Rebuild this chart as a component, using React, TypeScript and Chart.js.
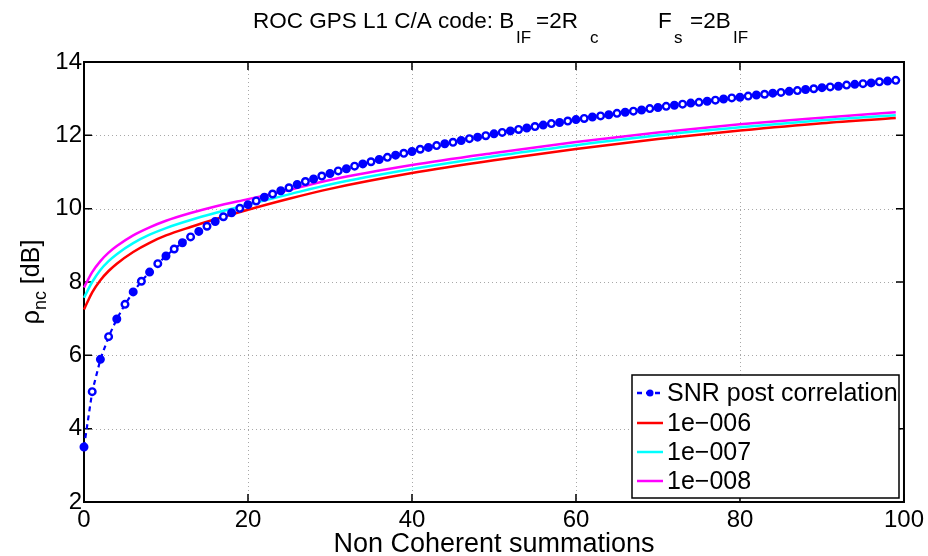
import React, { useEffect, useRef } from "react";
import { Chart, registerables } from "chart.js";

Chart.register(...registerables);

// ---------- data ----------
const snrX = [
  0, 1, 2, 3, 4, 5, 6, 7, 8, 9, 10, 11, 12, 13, 14, 15, 16, 17, 18, 19,
  20, 21, 22, 23, 24, 25, 26, 27, 28, 29, 30, 31, 32, 33, 34, 35, 36, 37, 38, 39,
  40, 41, 42, 43, 44, 45, 46, 47, 48, 49, 50, 51, 52, 53, 54, 55, 56, 57, 58, 59,
  60, 61, 62, 63, 64, 65, 66, 67, 68, 69, 70, 71, 72, 73, 74, 75, 76, 77, 78, 79,
  80, 81, 82, 83, 84, 85, 86, 87, 88, 89, 90, 91, 92, 93, 94, 95, 96, 97, 98, 99,
];
const snrDb = [
  3.5, 5.01, 5.89, 6.51, 6.99, 7.39, 7.73, 8.02, 8.27, 8.5,
  8.71, 8.9, 9.07, 9.23, 9.38, 9.52, 9.65, 9.78, 9.89, 10.01,
  10.11, 10.21, 10.31, 10.4, 10.49, 10.57, 10.66, 10.74, 10.81, 10.89,
  10.96, 11.03, 11.09, 11.16, 11.22, 11.28, 11.34, 11.4, 11.46, 11.51,
  11.56, 11.62, 11.67, 11.72, 11.77, 11.81, 11.86, 11.91, 11.95, 11.99,
  12.04, 12.08, 12.12, 12.16, 12.2, 12.24, 12.28, 12.32, 12.35, 12.39,
  12.43, 12.46, 12.5, 12.53, 12.56, 12.6, 12.63, 12.66, 12.69, 12.73,
  12.76, 12.79, 12.82, 12.85, 12.88, 12.9, 12.93, 12.96, 12.99, 13.02,
  13.04, 13.07, 13.1, 13.12, 13.15, 13.17, 13.2, 13.22, 13.25, 13.27,
  13.3, 13.32, 13.34, 13.37, 13.39, 13.41, 13.43, 13.46, 13.48, 13.5,
];
const threshX = [0, 1, 2, 3, 4, 6, 8, 10, 13, 16, 20, 25, 30, 40, 50, 60, 70, 80, 90, 99];
const pfa1e6 = [7.25, 7.72, 8.05, 8.3, 8.5, 8.82, 9.07, 9.27, 9.5, 9.71, 9.97, 10.27, 10.54, 10.97, 11.32, 11.63, 11.9, 12.13, 12.33, 12.47];
const pfa1e7 = [7.57, 8.0, 8.33, 8.57, 8.76, 9.06, 9.29, 9.47, 9.69, 9.88, 10.11, 10.39, 10.66, 11.08, 11.43, 11.73, 12.0, 12.22, 12.41, 12.55];
const pfa1e8 = [7.85, 8.27, 8.57, 8.8, 8.98, 9.27, 9.49, 9.67, 9.88, 10.06, 10.26, 10.51, 10.78, 11.19, 11.52, 11.82, 12.08, 12.3, 12.48, 12.63];

const xTicks = [0, 20, 40, 60, 80, 100];
const yTicks = [2, 4, 6, 8, 10, 12, 14];
const seriesLabels = ["SNR post correlation", "1e\u2212006", "1e\u2212007", "1e\u2212008"];
const seriesColors = ["#0000ff", "#ff0000", "#00ffff", "#ff00ff"];
const xLabel = "Non Coherent summations";

const FONT = '"Liberation Sans", Arial, Helvetica, sans-serif';

// title pieces with their left positions (px)
type TSeg = { t: string; x: number; sub?: boolean };
const titleSegs: TSeg[] = [
  { t: "ROC GPS L1 C/A code: B", x: 253 },
  { t: "IF", x: 516, sub: true },
  { t: "=2R", x: 536 },
  { t: "c", x: 590, sub: true },
  { t: "F", x: 658 },
  { t: "s", x: 674, sub: true },
  { t: "=2B", x: 690 },
  { t: "IF", x: 733, sub: true },
];

type Seg = { t: string; sub?: boolean };
function drawSegsCentered(ctx: CanvasRenderingContext2D, segs: Seg[], cx: number, base: number, main: number, subSize: number, subShift: number) {
  const widths = segs.map((s) => {
    ctx.font = `${s.sub ? subSize : main}px ${FONT}`;
    return ctx.measureText(s.t).width;
  });
  const total = widths.reduce((a, b) => a + b, 0);
  let x = cx - total / 2;
  ctx.textAlign = "left";
  ctx.textBaseline = "alphabetic";
  segs.forEach((s, i) => {
    ctx.font = `${s.sub ? subSize : main}px ${FONT}`;
    ctx.fillText(s.t, x, base + (s.sub ? subShift : 0));
    x += widths[i];
  });
}

const decorPlugin = {
  id: "decor",
  beforeDatasetsDraw(chart: any) {
    const { ctx, chartArea: a, scales } = chart;
    const xs = scales.x;
    const ys = scales.y;
    ctx.save();
    // dotted grid
    ctx.strokeStyle = "#a8a8a8";
    ctx.lineWidth = 1;
    ctx.setLineDash([1, 3]);
    xTicks.forEach((t) => {
      if (t === xTicks[0] || t === xTicks[xTicks.length - 1]) return;
      const px = Math.round(xs.getPixelForValue(t)) + 0.5;
      ctx.beginPath();
      ctx.moveTo(px, a.top);
      ctx.lineTo(px, a.bottom);
      ctx.stroke();
    });
    yTicks.forEach((t) => {
      if (t === yTicks[0] || t === yTicks[yTicks.length - 1]) return;
      const py = Math.round(ys.getPixelForValue(t)) + 0.5;
      ctx.beginPath();
      ctx.moveTo(a.left, py);
      ctx.lineTo(a.right, py);
      ctx.stroke();
    });
    ctx.setLineDash([]);
    // tick marks (inside, all four sides)
    ctx.strokeStyle = "#000";
    ctx.lineWidth = 1.5;
    const tl = 8;
    xTicks.forEach((t) => {
      const px = xs.getPixelForValue(t);
      ctx.beginPath();
      ctx.moveTo(px, a.bottom);
      ctx.lineTo(px, a.bottom - tl);
      ctx.moveTo(px, a.top);
      ctx.lineTo(px, a.top + tl);
      ctx.stroke();
    });
    yTicks.forEach((t) => {
      const py = ys.getPixelForValue(t);
      ctx.beginPath();
      ctx.moveTo(a.left, py);
      ctx.lineTo(a.left + tl, py);
      ctx.moveTo(a.right, py);
      ctx.lineTo(a.right - tl, py);
      ctx.stroke();
    });
    // box
    ctx.lineWidth = 2;
    ctx.strokeRect(a.left, a.top, a.right - a.left, a.bottom - a.top);
    ctx.restore();
  },
  afterDraw(chart: any) {
    const { ctx, chartArea: a } = chart;
    ctx.save();
    ctx.fillStyle = "#000";
    // title
    ctx.textAlign = "left";
    ctx.textBaseline = "alphabetic";
    titleSegs.forEach((s) => {
      ctx.font = `${s.sub ? 17 : 22.5}px ${FONT}`;
      ctx.fillText(s.t, s.x, s.sub ? 43 : 28);
    });
    // x label
    ctx.font = `27px ${FONT}`;
    ctx.textAlign = "center";
    ctx.fillText(xLabel, (a.left + a.right) / 2, 552);
    // y label
    ctx.save();
    ctx.translate(39, (a.top + a.bottom) / 2);
    ctx.rotate(-Math.PI / 2);
    drawSegsCentered(ctx, [{ t: "\u03c1" }, { t: "nc", sub: true }, { t: " [dB]" }], 0, 0, 25, 18, 7);
    ctx.restore();
    // legend
    const lx = 632, ly = 375, lw = 267, lh = 123;
    ctx.fillStyle = "#fff";
    ctx.fillRect(lx, ly, lw, lh);
    ctx.strokeStyle = "#000";
    ctx.lineWidth = 1.5;
    ctx.strokeRect(lx, ly, lw, lh);
    const rows = [393, 423, 452, 481];
    ctx.font = `25px ${FONT}`;
    ctx.textAlign = "left";
    ctx.textBaseline = "middle";
    seriesLabels.forEach((lab, i) => {
      const y = rows[i];
      ctx.strokeStyle = seriesColors[i];
      ctx.lineWidth = 2.5;
      if (i === 0) ctx.setLineDash([5, 4]);
      else ctx.setLineDash([]);
      ctx.beginPath();
      ctx.moveTo(637, y);
      ctx.lineTo(663, y);
      ctx.stroke();
      ctx.setLineDash([]);
      if (i === 0) {
        ctx.fillStyle = seriesColors[0];
        ctx.beginPath();
        ctx.arc(650, y, 3.5, 0, Math.PI * 2);
        ctx.fill();
      }
      ctx.fillStyle = "#000";
      ctx.fillText(lab, 667, y + 1);
    });
    ctx.restore();
  },
};

export default function App() {
  const ref = useRef<HTMLCanvasElement | null>(null);
  useEffect(() => {
    if (!ref.current) return;
    const toXY = (xs: number[], ys: number[]) => xs.map((x, i) => ({ x, y: ys[i] }));
    const chart = new Chart(ref.current, {
      type: "line",
      data: {
        datasets: [
          {
            label: seriesLabels[0],
            data: toXY(snrX, snrDb),
            borderColor: seriesColors[0],
            borderWidth: 2.2,
            borderDash: [5, 4],
            pointRadius: 3.3,
            pointBorderWidth: 2.4,
            pointBorderColor: seriesColors[0],
            pointBackgroundColor: (c: any) => (c.dataIndex % 2 === 1 ? "#ffffff" : seriesColors[0]),
            tension: 0,
            clip: false,
          } as any,
          {
            label: seriesLabels[1],
            data: toXY(threshX, pfa1e6),
            borderColor: seriesColors[1],
            borderWidth: 2.5,
            pointRadius: 0,
            cubicInterpolationMode: "monotone",
            clip: false,
          },
          {
            label: seriesLabels[2],
            data: toXY(threshX, pfa1e7),
            borderColor: seriesColors[2],
            borderWidth: 2.5,
            pointRadius: 0,
            cubicInterpolationMode: "monotone",
            clip: false,
          },
          {
            label: seriesLabels[3],
            data: toXY(threshX, pfa1e8),
            borderColor: seriesColors[3],
            borderWidth: 2.5,
            pointRadius: 0,
            cubicInterpolationMode: "monotone",
            clip: false,
          },
        ],
      },
      options: {
        animation: false,
        responsive: false,
        devicePixelRatio: 1,
        layout: { padding: { left: 0, right: 24, top: 62, bottom: 0 } },
        plugins: { legend: { display: false }, title: { display: false }, tooltip: { enabled: false } },
        scales: {
          x: {
            type: "linear",
            min: 0,
            max: 100,
            grid: { display: false, drawTicks: false },
            border: { display: false },
            afterFit: (s: any) => {
              s.height = 54;
            },
            afterBuildTicks: (s: any) => {
              s.ticks = xTicks.map((v) => ({ value: v }));
            },
            ticks: { color: "#000", font: { family: FONT, size: 24 }, padding: 4, maxRotation: 0, autoSkip: false },
          },
          y: {
            type: "linear",
            min: 2,
            max: 14,
            grid: { display: false, drawTicks: false },
            border: { display: false },
            afterFit: (s: any) => {
              s.width = 84;
            },
            afterBuildTicks: (s: any) => {
              s.ticks = yTicks.map((v) => ({ value: v }));
            },
            ticks: { color: "#000", font: { family: FONT, size: 24 }, padding: 2, autoSkip: false },
          },
        },
      },
      plugins: [decorPlugin],
    });
    return () => chart.destroy();
  }, []);
  return (
    <div style={{ position: "fixed", left: 0, top: 0, width: 928, height: 556, background: "#fff" }}>
      <canvas ref={ref} width={928} height={556} style={{ display: "block" }} />
    </div>
  );
}
